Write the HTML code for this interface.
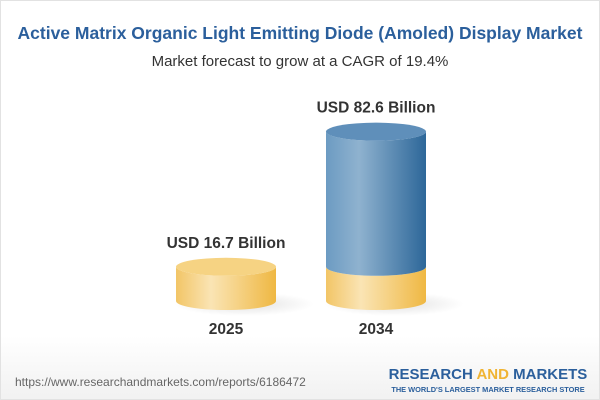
<!DOCTYPE html>
<html><head><meta charset="utf-8"><style>
html,body{margin:0;width:600px;height:400px;overflow:hidden;font-family:"Liberation Sans",sans-serif;background:#fff}
#wrap{position:relative;width:600px;height:400px;overflow:hidden;border:1px solid #e2e2e2;box-sizing:border-box;background:linear-gradient(#fff 0,#fff 335px,#f1f1f1 400px)}
.t{position:absolute;width:100%;text-align:center;white-space:nowrap}
</style></head><body>
<div id="wrap">
<div class="t" style="top:22px;font-size:17.5px;font-weight:bold;color:#2b5f9c">Active Matrix Organic Light Emitting Diode (Amoled) Display Market</div>
<div class="t" style="top:52px;font-size:15px;color:#333">Market forecast to grow at a CAGR of 19.4%</div>
<svg id="chart" width="600" height="400" style="position:absolute;left:0;top:0">
<defs>
<linearGradient id="gy" x1="0" x2="1"><stop offset="0" stop-color="#f2c566"/><stop offset="0.35" stop-color="#fae4b4"/><stop offset="1" stop-color="#efb843"/></linearGradient>
<linearGradient id="gb" x1="0" x2="1"><stop offset="0" stop-color="#6c9bc2"/><stop offset="0.33" stop-color="#8fb2cf"/><stop offset="1" stop-color="#2d6799"/></linearGradient>
<radialGradient id="sh"><stop offset="0" stop-color="#000" stop-opacity="0.12"/><stop offset="1" stop-color="#000" stop-opacity="0"/></radialGradient>
</defs>
<g id="marks"></g>
</svg>
<div style="position:absolute;left:14px;top:374px;font-size:12px;color:#666;white-space:nowrap">https://www.researchandmarkets.com/reports/6186472</div>
<div style="position:absolute;left:386px;top:365px;width:202px;text-align:center;white-space:nowrap">
<div style="font-size:15px;font-weight:bold;color:#2b5f9c">RESEARCH <span style="color:#f0b433">AND</span> MARKETS</div>
<div style="font-size:7.4px;font-weight:bold;color:#2b5f9c;margin-top:2px">THE WORLD'S LARGEST MARKET RESEARCH STORE</div>
</div>
</div>
<script>
const years=["2025","2034"];
const values=[16.7,82.6];
const labels=["USD 16.7 Billion","USD 82.6 Billion"];
const base=values[0];
const NS="http://www.w3.org/2000/svg";
const g=document.getElementById('marks');
const baseY=300, k=2.05, rx=50, ry=9;
const cx=i=>225+i*150;
const y=v=>baseY-v*k;
function mk(t,a){const e=document.createElementNS(NS,t);for(const n in a)e.setAttribute(n,a[n]);g.appendChild(e);return e;}
function body(c,y0,y1,fill){return mk('path',{d:`M${c-rx},${y1} L${c-rx},${y0} A${rx},${ry} 0 0 0 ${c+rx},${y0} L${c+rx},${y1} A${rx},${ry} 0 0 1 ${c-rx},${y1} Z`,fill:fill});}
values.forEach((v,i)=>{
 const c=cx(i);
 const s=mk('ellipse',{cx:c+18,cy:baseY+3,rx:rx+20,ry:ry+3,fill:'url(#sh)'});
 
 
 const yb=y(Math.min(v,base));
 const b1=body(c,baseY,yb,'url(#gy)');
 
 
 let topFill='#f6d383';
 if(v>base){
  const b2=body(c,yb,y(v),'url(#gb)');
  
  
  topFill='#5f8fba';
 }
 const tp=mk('ellipse',{cx:c,cy:y(v),rx:rx,ry:ry,fill:topFill});
 
 
 const l=mk('text',{x:c,y:y(v)-19,'text-anchor':'middle','font-size':'15.5','font-weight':'bold',fill:'#333'});
 l.textContent=labels[i];
 
 
 const yl=mk('text',{x:c,y:333,'text-anchor':'middle','font-size':'15.5','font-weight':'bold',fill:'#333'});
 yl.textContent=years[i];
 
 
});
</script>
</body></html>
